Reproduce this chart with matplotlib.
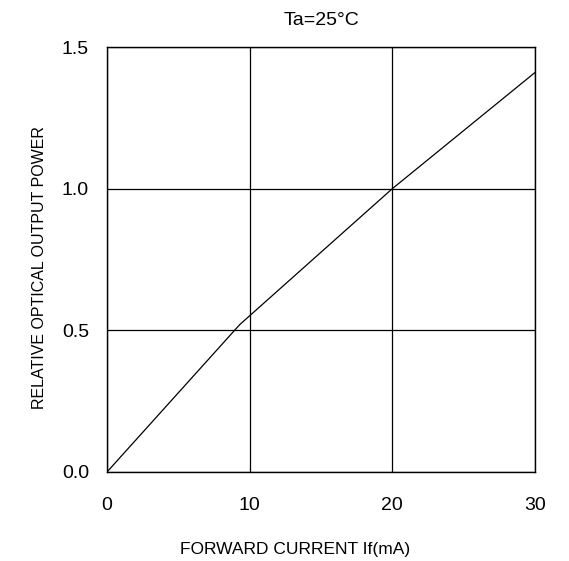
import matplotlib
matplotlib.use('Agg')
import matplotlib.pyplot as plt

plt.rcParams['font.family'] = ['Liberation Sans', 'DejaVu Sans']

# 曲线数据
current_ma = [0, 9.3, 20, 30]
rel_power = [0, 0.52, 1.0, 1.41]

x_ticks = [0, 10, 20, 30]
y_ticks = [0.0, 0.5, 1.0, 1.5]
y_tick_labels = ['0.0', '0.5', '1.0', '1.5']

fig = plt.figure(figsize=(5.69, 5.61), dpi=100)
ax = fig.add_axes([107/569, 1 - 472/561, (535-107)/569, (472-47)/561])

ax.plot(current_ma, rel_power, color='black', lw=0.9)

ax.set_xlim(0, 30)
ax.set_ylim(0, 1.5)
ax.set_xticks(x_ticks)
ax.set_yticks(y_ticks)
ax.set_yticklabels(y_tick_labels)
ax.grid(True, color='black', lw=0.9)
ax.tick_params(axis='x', length=0, labelsize=14, pad=18)
ax.tick_params(axis='y', length=0, labelsize=14, pad=13)
for s in ax.spines.values():
    s.set_linewidth(1.0)

ax.set_xlabel('FORWARD CURRENT If(mA)', fontsize=12.5)
ax.xaxis.set_label_coords(0.44, -0.165)
ax.set_ylabel('RELATIVE OPTICAL OUTPUT POWER', fontsize=11.5)
ax.yaxis.set_label_coords(-0.14, 0.482)
ax.set_title('Ta=25°C', fontsize=14, pad=16)

fig.savefig('out.png', dpi=100)
